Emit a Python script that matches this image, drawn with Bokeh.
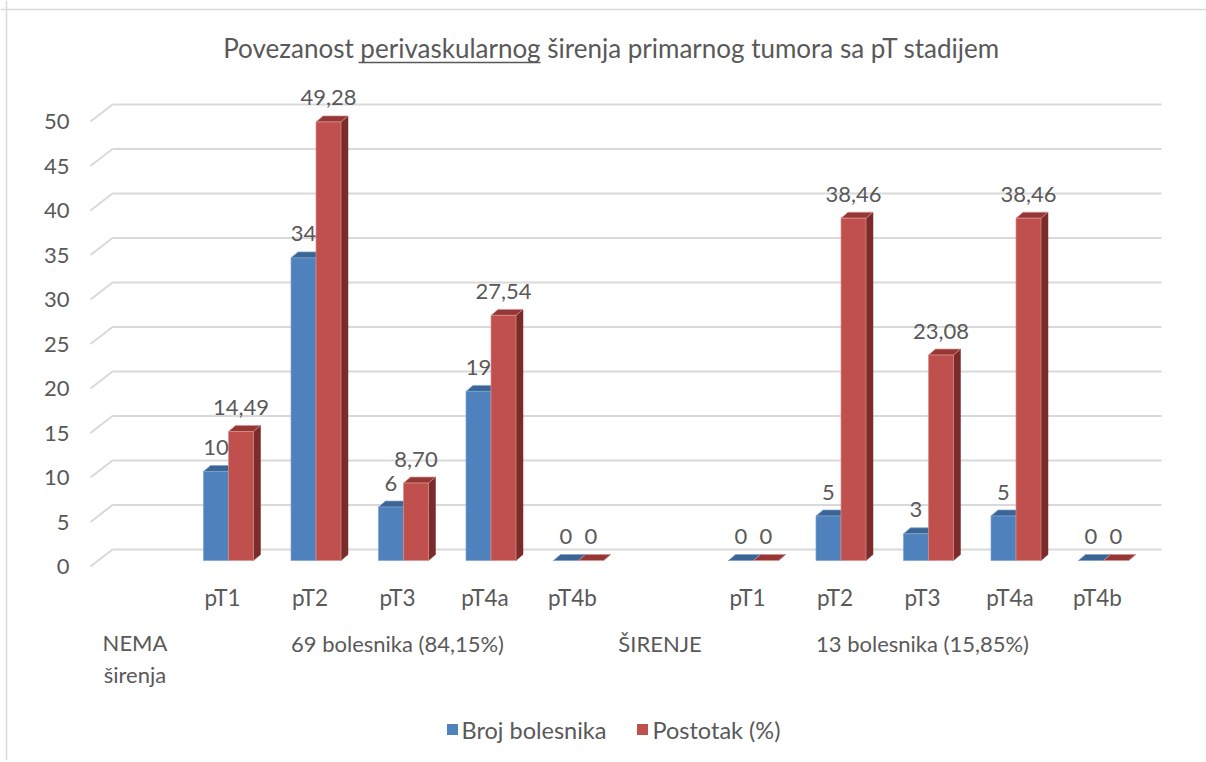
from bokeh.plotting import figure
from bokeh.models import Range1d, Span
from bokeh.core.properties import value
from bokeh.embed import file_html
from bokeh.resources import INLINE

# ---------------- data ----------------
stages = ["pT1", "pT2", "pT3", "pT4a", "pT4b"]
group_labels = ["69 bolesnika (84,15%)", "ŠIRENJE", "13 bolesnika (15,85%)"]
first_group_label = "NEMA\nširenja"
broj_nema = [10, 34, 6, 19, 0]
postotak_nema = [14.49, 49.28, 8.70, 27.54, 0]
broj_sirenje = [0, 5, 3, 5, 0]
postotak_sirenje = [0, 38.46, 23.08, 38.46, 0]
y_ticks = [0, 5, 10, 15, 20, 25, 30, 35, 40, 45, 50]
title_text = "Povezanost perivaskularnog širenja primarnog tumora sa pT stadijem"
series_names = ["Broj bolesnika", "Postotak (%)"]

# ---------------- layout helpers (pixel <-> data) ----------------
PX_X = 87.5      # px per category slot
PX_Y = 8.9       # px per value unit
X0 = 140.5       # page x of slot 0 divider
Y0 = 560.0       # page y of value 0 at bar plane
ORIGIN = 0       # page offset of the figure


def X2x(X):
    return (X - X0) / PX_X


def Y2y(Y):
    return (Y0 - Y) / PX_Y


W, H = 1206, 760
p = figure(width=W, height=H, x_range=Range1d(X2x(ORIGIN), X2x(ORIGIN + W)),
           y_range=Range1d(Y2y(ORIGIN + H), Y2y(ORIGIN)), min_border=0,
           x_axis_location=None, y_axis_location=None,
           toolbar_location=None, output_backend="svg")
p.outline_line_color = None
p.grid.visible = False
p.background_fill_color = "white"
p.border_fill_color = "white"

FONT = value("Lato")
TXT = "#595959"
GRID = "#D9D9D9"

# chart border (left and top)
p.add_layout(Span(location=X2x(6), dimension="height", line_color=GRID, line_width=1.5))
p.add_layout(Span(location=Y2y(9), dimension="width", line_color=GRID, line_width=1.5))

# ---------------- gridlines with perspective ----------------
back_dy = 11 / PX_Y
front_dy = 6 / PX_Y
xb0, xb1, xf = X2x(112), X2x(1161), X2x(90)
p.segment(x0=[xb0] * len(y_ticks), y0=[v + back_dy for v in y_ticks],
          x1=[xb1] * len(y_ticks), y1=[v + back_dy for v in y_ticks],
          line_color=GRID, line_width=2)
p.segment(x0=[xf] * len(y_ticks), y0=[v - front_dy for v in y_ticks],
          x1=[xb0] * len(y_ticks), y1=[v + back_dy for v in y_ticks],
          line_color=GRID, line_width=2)
p.text(x=[X2x(69)] * len(y_ticks), y=[v - front_dy for v in y_ticks],
       text=[str(v) for v in y_ticks], text_font=FONT, text_font_size="22px",
       text_color=TXT, text_align="right", text_baseline="middle")

# ---------------- bars ----------------
slots = [1, 2, 3, 4, 5, 7, 8, 9, 10, 11]
broj = broj_nema + broj_sirenje
post = postotak_nema + postotak_sirenje
bw = 25 / PX_X
dx = 7 / PX_X
dy = 6 / PX_Y


def bar3d(lefts, vals, front, top, side, line):
    rights = [l + bw for l in lefts]
    p.patches(xs=[[r, r, r + dx, r + dx] for r in rights],
              ys=[[0, v, v + dy, dy] for v in vals],
              fill_color=side, line_color=side, line_width=0.5)
    p.patches(xs=[[l, r, r + dx, l + dx] for l, r in zip(lefts, rights)],
              ys=[[v, v, v + dy, v + dy] for v in vals],
              fill_color=top, line_color=line, line_width=0.7)
    p.quad(left=lefts, right=rights, bottom=[0] * len(vals), top=vals,
           fill_color=front, line_color=line, line_width=0.7)


bar3d([s - bw for s in slots], broj, "#4F81BD", "#3A6595", "#2F5480", "#7EA2CF")
bar3d([s for s in slots], post, "#C0504D", "#953735", "#7B2C2A", "#D8908E")

lab_dy = 24 / PX_Y
p.text(x=[s - bw / 2 for s in slots], y=[v + lab_dy for v in broj],
       text=[str(v) for v in broj], text_font=FONT, text_font_size="22px",
       text_color=TXT, text_align="center", text_baseline="middle")
p.text(x=[s + bw / 2 for s in slots], y=[v + lab_dy for v in post],
       text=["0" if v == 0 else f"{v:.2f}".replace(".", ",") for v in post],
       text_font=FONT, text_font_size="22px",
       text_color=TXT, text_align="center", text_baseline="middle")

# ---------------- category labels ----------------
cat_shift = -6 / PX_X
p.text(x=[s + cat_shift for s in slots], y=[Y2y(597)] * len(slots),
       text=stages + stages, text_font=FONT, text_font_size="22.5px",
       text_color=TXT, text_align="center", text_baseline="middle")
group_slots = [3, 6, 9]
p.text(x=[s + cat_shift for s in group_slots], y=[Y2y(643)] * 3,
       text=group_labels, text_font=FONT, text_font_size="22px",
       text_color=TXT, text_align="center", text_baseline="middle")
p.text(x=[0 + cat_shift], y=[Y2y(658)], text=[first_group_label],
       text_font=FONT, text_font_size="22px", text_color=TXT,
       text_align="center", text_baseline="middle", text_line_height=1.22)

# ---------------- title ----------------
p.text(x=[X2x(611)], y=[Y2y(47)], text=[title_text], text_font=FONT,
       text_font_size="26px", text_color=TXT, text_align="center",
       text_baseline="middle")
p.segment(x0=[X2x(358)], y0=[Y2y(62)], x1=[X2x(540)], y1=[Y2y(62)],
          line_color=TXT, line_width=1.5)

# ---------------- legend ----------------
p.scatter(x=[X2x(452), X2x(642)], y=[Y2y(729)] * 2, marker="square", size=11,
          fill_color=["#4F81BD", "#C0504D"], line_color=None)
p.text(x=[X2x(461), X2x(652)], y=[Y2y(729)] * 2, text=series_names,
       text_font=FONT, text_font_size="23.5px", text_color=TXT,
       text_align="left", text_baseline="middle")

open("out.html", "w").write(file_html(p, INLINE))
